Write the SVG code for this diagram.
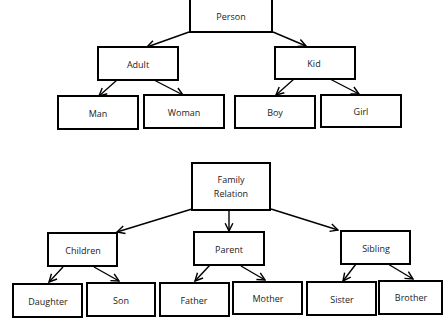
<svg xmlns="http://www.w3.org/2000/svg" width="443" height="326" viewBox="0 0 443 326">
<style>
.n rect{fill:#fff;stroke:#000;stroke-width:2}
.n text{font-family:"Open Sans",sans-serif;font-size:9px;fill:#222;text-anchor:middle;dominant-baseline:central}
#edges line{stroke:#000;stroke-width:1.4;marker-end:url(#ah)}
</style>
<defs>
<marker id="ah" markerUnits="userSpaceOnUse" markerWidth="11" markerHeight="11" viewBox="0 0 10 10" refX="9" refY="5" orient="auto">
<path d="M2,1.5 L9,5 L2,8.5" fill="none" stroke="#000" stroke-width="1.3"/>
</marker>
</defs>
<rect width="443" height="326" fill="#fff"/>
<g id="edges">
<line x1="189" y1="32" x2="147" y2="47"/>
<line x1="273" y1="32" x2="306" y2="46"/>
<line x1="117" y1="80" x2="99" y2="96"/>
<line x1="154" y1="80" x2="183" y2="95"/>
<line x1="294" y1="79" x2="276" y2="95"/>
<line x1="330" y1="79" x2="359" y2="94"/>
<line x1="192" y1="209" x2="117" y2="232"/>
<line x1="229" y1="211" x2="229" y2="231"/>
<line x1="271" y1="209" x2="338" y2="230"/>
<line x1="63" y1="267" x2="49" y2="282"/>
<line x1="94" y1="267" x2="119" y2="281"/>
<line x1="210" y1="265" x2="195" y2="281"/>
<line x1="241" y1="266" x2="265" y2="280"/>
<line x1="356" y1="264" x2="343" y2="281"/>
<line x1="388" y1="264" x2="413" y2="279"/>
</g>
<g id="person" class="n"><rect x="190" y="-2" width="82" height="34"/><text x="231" y="16">Person</text></g>
<g id="adult" class="n"><rect x="98" y="47" width="80" height="33"/><text x="138" y="64">Adult</text></g>
<g id="kid" class="n"><rect x="275" y="47" width="80" height="32"/><text x="314" y="63">Kid</text></g>
<g id="man" class="n"><rect x="58" y="96" width="80" height="33"/><text x="98" y="113">Man</text></g>
<g id="woman" class="n"><rect x="144" y="95" width="80" height="33"/><text x="184" y="112">Woman</text></g>
<g id="boy" class="n"><rect x="235" y="96" width="80" height="32"/><text x="275" y="112">Boy</text></g>
<g id="girl" class="n"><rect x="321" y="95" width="80" height="32"/><text x="361" y="111">Girl</text></g>
<g id="family" class="n"><rect x="192" y="163" width="78" height="47"/><text x="231" y="179">Family</text><text x="231" y="193">Relation</text></g>
<g id="children" class="n"><rect x="48" y="233" width="69" height="33"/><text x="83" y="250">Children</text></g>
<g id="parent" class="n"><rect x="194" y="232" width="70" height="33"/><text x="229" y="249">Parent</text></g>
<g id="sibling" class="n"><rect x="341" y="231" width="69" height="33"/><text x="376" y="248">Sibling</text></g>
<g id="daughter" class="n"><rect x="13" y="284" width="69" height="33"/><text x="48" y="301">Daughter</text></g>
<g id="son" class="n"><rect x="87" y="283" width="68" height="33"/><text x="121" y="300">Son</text></g>
<g id="father" class="n"><rect x="160" y="283" width="69" height="33"/><text x="194" y="300">Father</text></g>
<g id="mother" class="n"><rect x="233" y="282" width="69" height="32"/><text x="268" y="298">Mother</text></g>
<g id="sister" class="n"><rect x="307" y="282" width="69" height="33"/><text x="342" y="299">Sister</text></g>
<g id="brother" class="n"><rect x="379" y="281" width="63" height="33"/><text x="411" y="297">Brother</text></g>
</svg>
